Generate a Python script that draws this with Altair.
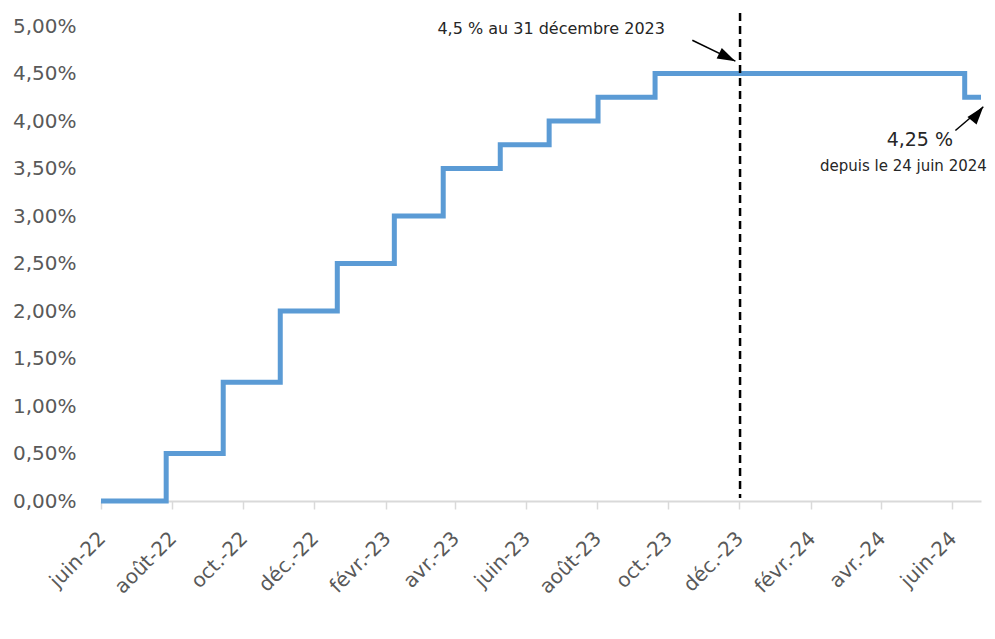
import json
import altair as alt
import pandas as pd

# --- data -------------------------------------------------------------
change_dates = ["2022-06-01", "2022-07-27", "2022-09-14", "2022-11-02", "2022-12-21",
                "2023-02-08", "2023-03-22", "2023-05-10", "2023-06-21", "2023-08-02",
                "2023-09-20", "2024-06-12", "2024-06-26"]
rates = [0.0, 0.5, 1.25, 2.0, 2.5, 3.0, 3.5, 3.75, 4.0, 4.25, 4.5, 4.25, 4.25]

tick_months = ["2022-06", "2022-08", "2022-10", "2022-12", "2023-02", "2023-04", "2023-06",
               "2023-08", "2023-10", "2023-12", "2024-02", "2024-04", "2024-06"]
tick_labels = ["juin-22", "août-22", "oct.-22", "déc.-22", "févr.-23", "avr.-23", "juin-23",
               "août-23", "oct.-23", "déc.-23", "févr.-24", "avr.-24", "juin-24"]
y_ticks = [0.0, 0.5, 1.0, 1.5, 2.0, 2.5, 3.0, 3.5, 4.0, 4.5, 5.0]

x_domain = ["2022-06-01", "2024-06-26"]
y_domain = [0.0, 5.19]

marker_date = "2023-12-02"

note1_text = "4,5 % au 31 décembre 2023"
note1_pos = ("2023-03-17", 4.97)
arrow1_from = ("2023-10-22", 4.85)
arrow1_to = ("2023-11-28", 4.63)

note2_text = "4,25 %"
note2_pos = ("2024-06-02", 3.80)
note3_text = "depuis le 24 juin 2024"
note3_pos = ("2024-07-01", 3.53)
arrow2_from = ("2024-06-04", 3.90)
arrow2_to = ("2024-06-28", 4.15)

# --- helpers ------------------------------------------------------------
def local(d):
    return d + "T00:00:00"

FONT = "DejaVu Sans"
W, H = 880, 493

x_scale = alt.Scale(domain=[alt.DateTime(year=int(d[:4]), month=int(d[5:7]), date=int(d[8:10]))
                            for d in x_domain], nice=False)
y_scale = alt.Scale(domain=y_domain, nice=False, zero=False)

label_map = json.dumps(dict(zip(tick_months, tick_labels)), ensure_ascii=False)

x_axis = alt.Axis(
    values=[alt.DateTime(year=int(m[:4]), month=int(m[5:7]), date=1) for m in tick_months],
    labelExpr=f"{label_map}[timeFormat(datum.value, '%Y-%m')]",
    labelAngle=-45, labelAlign="right", labelBaseline="middle",
    labelFont=FONT, labelFontSize=20, labelColor="#595959", labelPadding=26,
    labelOffset=1, labelOverlap=False, labelBound=False, labelFlush=False,
    domainColor="#d9d9d9", domainWidth=2, tickColor="#d9d9d9", tickWidth=1.5, tickSize=8,
    grid=False, title=None,
)
y_axis = alt.Axis(
    values=y_ticks,
    labelExpr="replace(format(datum.value, '.2f'), '.', ',') + '%'",
    labelFont=FONT, labelFontSize=20, labelColor="#595959", labelPadding=25,
    domain=False, ticks=False, grid=False, title=None,
)

rate_df = pd.DataFrame({"date": [local(d) for d in change_dates], "value": rates})

line = alt.Chart(rate_df).mark_line(
    interpolate="step-after", color="#5b9bd5", strokeWidth=5, strokeJoin="miter"
).encode(
    x=alt.X("date:T", scale=x_scale, axis=x_axis),
    y=alt.Y("value:Q", scale=y_scale, axis=y_axis),
)

X = alt.X("date:T")
Y = alt.Y("value:Q")

marker_df = pd.DataFrame({"date": [local(marker_date)]})
rule = alt.Chart(marker_df).mark_rule(
    color="black", strokeWidth=2.5, strokeDash=[8, 5]
).encode(x=X, y=alt.value(-8), y2=alt.value(H - 3))

def arrow(frm, to, angle):
    df = pd.DataFrame({"date": [local(frm[0])], "value": [frm[1]],
                       "date2": [local(to[0])], "value2": [to[1]]})
    shaft = alt.Chart(df).mark_rule(color="black", strokeWidth=1.5).encode(
        x=X, y=Y, x2="date2:T", y2="value2:Q")
    head_df = pd.DataFrame({"date": [local(to[0])], "value": [to[1]]})
    head = alt.Chart(head_df).mark_point(
        shape="M0,0L0.65,2L-0.65,2Z", size=324, filled=True, color="black",
        opacity=1, angle=angle, strokeWidth=0
    ).encode(x=X, y=Y)
    return shaft + head

def note(text, pos, size, align):
    df = pd.DataFrame({"date": [local(pos[0])], "value": [pos[1]], "label": [text]})
    return alt.Chart(df).mark_text(
        font=FONT, fontSize=size, color="#262626", align=align, baseline="middle"
    ).encode(x=X, y=Y, text="label:N")

chart = alt.layer(
    line,
    rule,
    arrow(arrow1_from, arrow1_to, 116),
    arrow(arrow2_from, arrow2_to, 39),
    note(note1_text, note1_pos, 16, "left"),
    note(note2_text, note2_pos, 19, "right"),
    note(note3_text, note3_pos, 15, "right"),
).properties(
    width=W, height=H,
    autosize=alt.AutoSizeParams(type="none"),
    padding={"left": 93, "top": 0, "right": 6, "bottom": 115},
).configure_view(strokeOpacity=0)

chart.save("out.html", embed_options={"renderer": "svg", "actions": False})
